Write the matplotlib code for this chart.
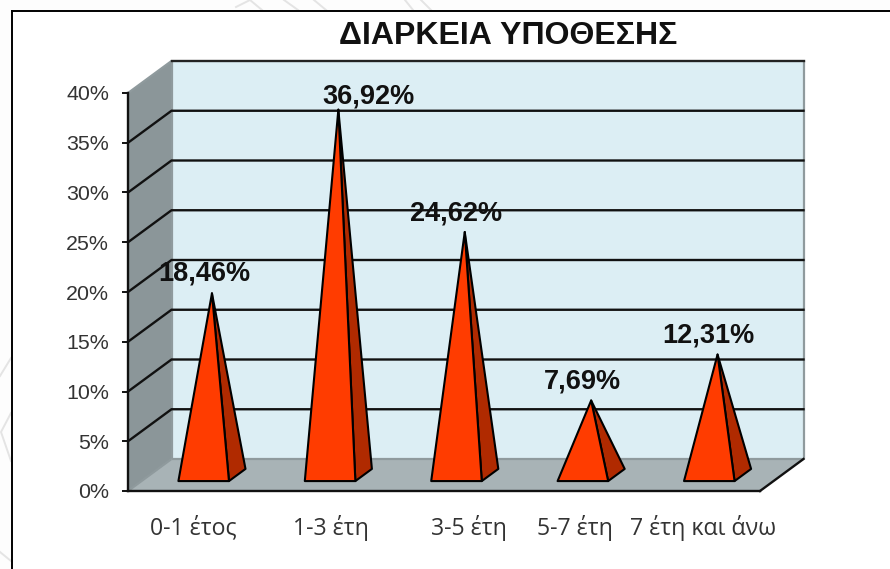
import matplotlib
matplotlib.use("Agg")
import matplotlib.pyplot as plt
from matplotlib.lines import Line2D
from matplotlib.patches import Polygon

categories = ["0-1 έτος", "1-3 έτη", "3-5 έτη", "5-7 έτη", "7 έτη και άνω"]
values = [18.46, 36.92, 24.62, 7.69, 12.31]
value_labels = ["18,46%", "36,92%", "24,62%", "7,69%", "12,31%"]
y_ticks = [0, 5, 10, 15, 20, 25, 30, 35, 40]
y_tick_labels = ["0%", "5%", "10%", "15%", "20%", "25%", "30%", "35%", "40%"]
title = "ΔΙΑΡΚΕΙΑ ΥΠΟΘΕΣΗΣ"
label_shift_px = [2, 13, 25, 5, 6]
value_label_dx_px = [-8, 30, -9, -9, -9]
value_label_dy_px = [20, 13, 19, 19, 19]

W, H = 890, 569
L, R, B, T = 128, 760, 491, 93
fig = plt.figure(figsize=(W / 100, H / 100), dpi=100, facecolor="#fdfdfd")


def fig_line(xs, ys, **kw):
    fig.add_artist(Line2D([x / W for x in xs], [1 - y / H for y in ys],
                          transform=fig.transFigure, **kw))


# white sheet with its top and left border, faint watermark strokes in the margin
fig.add_artist(plt.Rectangle((11.5 / W, 0), (W - 11.5) / W, 1 - 11 / H, transform=fig.transFigure,
                             fc="white", ec="none", zorder=-5))
for xs, ys in (([11, 0], [358, 376]), ([11, 1, 11], [413, 432, 461]), ([0, 11], [552, 561]),
               ([236, 250, 262], [7, 0, 10]), ([284, 298], [0, 10]), ([314, 326], [0, 10]),
               ([405, 413], [0, 10]), ([421, 431], [0, 10])):
    fig_line(xs, ys, color="#e4e4e4", lw=1.4, zorder=-6)
fig_line([11.5, 11.5], [H, 11], color="black", lw=1.4, zorder=-4)
fig_line([11.5, W], [11, 11], color="black", lw=1.4, zorder=-4)

ax = fig.add_axes([L / W, 1 - B / H, (R - L) / W, (B - T) / H], facecolor="none")
ax.set_xlim(0, len(categories))
ax.set_ylim(0, 40)
px_x = len(categories) / (R - L)
px_y = 40 / (B - T)
DX, DY = 43.5 * px_x, 32 * px_y


def proj(x, y, d):
    return (x + d * DX, y + d * DY)


n = len(categories)
# walls
ax.add_patch(Polygon([proj(0, 0, 1), proj(n, 0, 1), proj(n, 40, 1), proj(0, 40, 1)],
                     fc="#dceef4", ec="none", clip_on=False, zorder=1))
ax.add_patch(Polygon([proj(0, 0, 0), proj(0, 0, 1), proj(0, 40, 1), proj(0, 40, 0)],
                     fc="#8b9699", ec="none", clip_on=False, zorder=1))
ax.add_patch(Polygon([proj(0, 0, 0), proj(n, 0, 0), proj(n, 0, 1), proj(0, 0, 1)],
                     fc="#a8b3b6", ec="none", clip_on=False, zorder=1))
GREY = "#8f9a9d"
for pts in ([proj(0, 0, 1), proj(n, 0, 1)], [proj(0, 0, 1), proj(0, 40, 1)],
            [proj(n, 0, 1), proj(n, 40, 1)], [proj(0, 0, 0), proj(0, 0, 1)],
            [proj(0, 40, 0), proj(0, 40, 1)]):
    ax.plot(*zip(*pts), color=GREY, lw=1.6, clip_on=False, zorder=2, solid_capstyle="butt")
# grid
for v in y_ticks[1:-1]:
    ax.plot(*zip(proj(0, v, 0), proj(0, v, 1), proj(n, v, 1)), color="#111111", lw=1.7,
            clip_on=False, zorder=3, solid_joinstyle="miter")
ax.plot(*zip(proj(0, 40, 1), proj(n, 40, 1)), color="#222222", lw=1.7, clip_on=False, zorder=3)
ax.plot(*zip(proj(n, 0, 0), proj(n, 0, 1)), color="#111111", lw=1.7, clip_on=False, zorder=3)

# pyramids
half = 0.2
d0, d1 = 0.31, 0.69
for i, (v, lab) in enumerate(zip(values, value_labels)):
    c = i + 0.5 - 1 * px_x
    a = proj(c - half, 0, d0)
    b = proj(c + half, 0, d0)
    e = proj(c + half, 0, d1)
    top = proj(c, v - 2 * px_y, 0.5)
    ax.add_patch(Polygon([b, e, top], fc="#b02a00", ec="black", lw=1.5, zorder=5,
                         clip_on=False, joinstyle="round"))
    ax.add_patch(Polygon([a, b, top], fc="#ff3c00", ec="black", lw=1.5, zorder=6,
                         clip_on=False, joinstyle="round"))
    ax.text(top[0] + value_label_dx_px[i] * px_x, top[1] + value_label_dy_px[i] * px_y, lab,
            ha="center", va="center", fontsize=19.5, fontweight="bold",
            family="Liberation Sans", color="#111111", zorder=8)

for s in ("top", "right"):
    ax.spines[s].set_visible(False)
for s in ("left", "bottom"):
    ax.spines[s].set_linewidth(1.7)
    ax.spines[s].set_color("#111111")
    ax.spines[s].set_zorder(4)
ax.set_yticks(y_ticks, y_tick_labels, fontsize=15.4, family="Liberation Sans", color="#333333")
ax.tick_params(axis="y", length=4.3, width=1.4, color="#111111", pad=9.4)
ax.set_xticks([i + 0.5 + s * px_x for i, s in enumerate(label_shift_px)], categories,
              fontsize=16.7, family="Open Sans", color="#333333")
ax.tick_params(axis="x", length=0, pad=17.5)
fig.text(508.5 / W, 1 - 35.5 / H, title, ha="center", va="center", fontsize=23, fontweight="bold",
         family="Liberation Sans", color="#111111")
fig.savefig("out.png", dpi=100, facecolor=fig.get_facecolor())
